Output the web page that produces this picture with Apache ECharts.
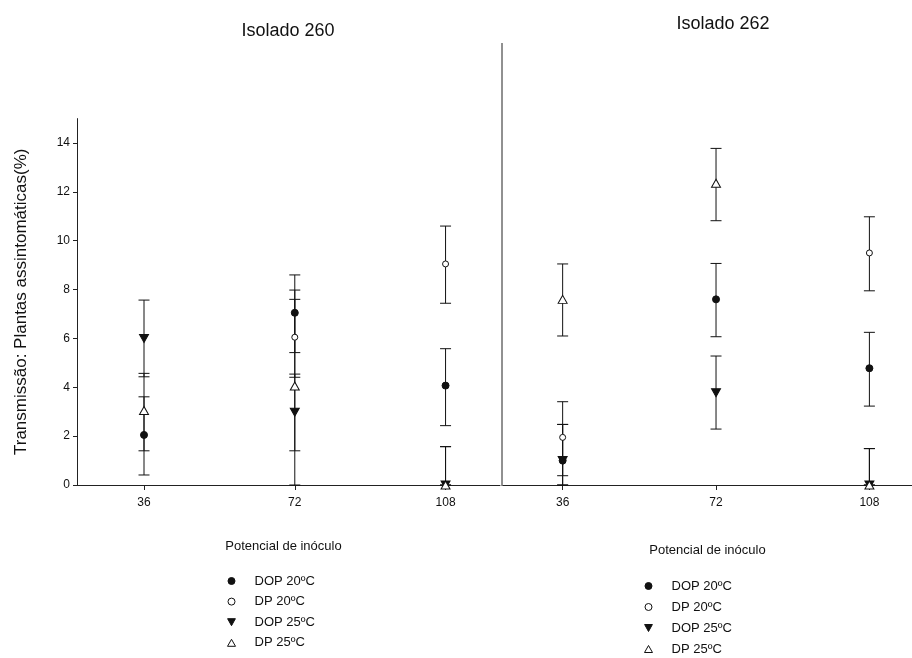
<!DOCTYPE html>
<html>
<head>
<meta charset="utf-8">
<script src="https://cdn.jsdelivr.net/npm/echarts@6/dist/echarts.min.js"></script>
<style>
  html, body { margin: 0; padding: 0; background: #fff; }
  #chart { width: 912px; height: 658px; }
</style>
</head>
<body>
<div id="chart"></div>
<script>
// categorias (potencial de inóculo) e ticks
var doses = [36, 72, 108];
var yTicks = [0, 2, 4, 6, 8, 10, 12, 14];
var seriesNames = ['DOP 20ºC', 'DP 20ºC', 'DOP 25ºC', 'DP 25ºC'];

// Isolado 260 - médias, limite inferior e superior das barras de erro
var i260_dop20 = [2.05, 7.05, 4.07];
var i260_dop20_lo = [0.41, 5.42, 2.43];
var i260_dop20_hi = [3.61, 8.6, 5.58];
var i260_dp20 = [null, 6.05, 9.05];
var i260_dp20_lo = [null, 4.41, 7.44];
var i260_dp20_hi = [null, 7.6, 10.6];
var i260_dop25 = [6.0, 2.98, 0];
var i260_dop25_lo = [4.43, 1.4, 0];
var i260_dop25_hi = [7.57, 4.54, 1.57];
var i260_dp25 = [3.05, 4.05, 0];
var i260_dp25_lo = [1.4, 0, 0];
var i260_dp25_hi = [4.57, 7.98, 1.57];

// Isolado 262
var i262_dop20 = [1.0, 7.6, 4.78];
var i262_dop20_lo = [0, 6.07, 3.23];
var i262_dop20_hi = [2.48, 9.07, 6.25];
var i262_dp20 = [1.95, null, 9.5];
var i262_dp20_lo = [0.38, null, 7.95];
var i262_dp20_hi = [3.41, null, 10.98];
var i262_dop25 = [1.0, 3.78, 0];
var i262_dop25_lo = [0, 2.29, 0];
var i262_dop25_hi = [2.48, 5.28, 1.49];
var i262_dp25 = [7.6, 12.35, 0];
var i262_dp25_lo = [6.1, 10.82, 0];
var i262_dp25_hi = [9.05, 13.78, 1.49];

var font = 'Liberation Sans, Arial, sans-serif';
var ink = '#111';
var symbols = ['circle', 'circle', 'path://M0,0L10,0L5,9Z', 'triangle'];
var symbolSizes = [7, 6, [9, 8], [9, 8]];
var fills = [ink, '#fff', ink, '#fff'];

function pairs(values) {
  return doses.map(function (d, i) { return [d, values[i]]; });
}
function errData(lo, hi) {
  var out = [];
  doses.forEach(function (d, i) {
    if (lo[i] != null) out.push([d, lo[i], hi[i]]);
  });
  return out;
}
function renderErr(params, api) {
  var x = api.value(0);
  var p1 = api.coord([x, api.value(1)]);
  var p2 = api.coord([x, api.value(2)]);
  var w = 5.5;
  var st = { stroke: ink, lineWidth: 1 };
  return {
    type: 'group',
    children: [
      { type: 'line', shape: { x1: p1[0], y1: p1[1], x2: p2[0], y2: p2[1] }, style: st },
      { type: 'line', shape: { x1: p1[0] - w, y1: p1[1], x2: p1[0] + w, y2: p1[1] }, style: st },
      { type: 'line', shape: { x1: p2[0] - w, y1: p2[1], x2: p2[0] + w, y2: p2[1] }, style: st }
    ]
  };
}

var panels = [
  { means: [i260_dop20, i260_dp20, i260_dop25, i260_dp25],
    lo: [i260_dop20_lo, i260_dp20_lo, i260_dop25_lo, i260_dp25_lo],
    hi: [i260_dop20_hi, i260_dp20_hi, i260_dop25_hi, i260_dp25_hi] },
  { means: [i262_dop20, i262_dp20, i262_dop25, i262_dp25],
    lo: [i262_dop20_lo, i262_dp20_lo, i262_dop25_lo, i262_dp25_lo],
    hi: [i262_dop20_hi, i262_dp20_hi, i262_dop25_hi, i262_dp25_hi] }
];

var series = [];
panels.forEach(function (p, g) {
  for (var k = 0; k < 4; k++) {
    series.push({
      type: 'custom',
      xAxisIndex: g, yAxisIndex: g,
      renderItem: renderErr,
      data: errData(p.lo[k], p.hi[k]),
      z: 1,
      silent: true
    });
  }
  for (var k = 0; k < 4; k++) {
    series.push({
      name: seriesNames[k],
      type: 'scatter',
      xAxisIndex: g, yAxisIndex: g,
      symbol: symbols[k],
      symbolSize: symbolSizes[k],
      itemStyle: { color: fills[k], borderColor: ink, borderWidth: 1, opacity: 1 },
      data: pairs(p.means[k]),
      z: 3 + k
    });
  }
});

var legendData = seriesNames.map(function (n, k) {
  return { name: n, icon: symbols[k],
    itemStyle: { color: fills[k], borderColor: ink, borderWidth: 1 } };
});
var legendBase = {
  orient: 'vertical',
  data: legendData,
  padding: 0,
  itemWidth: 8,
  itemHeight: 7,
  selectedMode: false,
  textStyle: { fontFamily: font, fontSize: 13, color: ink, padding: [0, 0, 0, 14], lineHeight: 14 }
};

var xAxisBase = {
  type: 'value',
  nameLocation: 'middle',
  nameTextStyle: { fontFamily: font, fontSize: 13, color: ink },
  axisLine: { show: true, onZero: false, lineStyle: { color: '#222', width: 1 } },
  axisTick: { show: true, customValues: doses, length: 5, lineStyle: { color: '#222' } },
  axisLabel: { customValues: doses, fontFamily: font, fontSize: 12, color: ink, margin: 12 },
  splitLine: { show: false }
};

var chart = echarts.init(document.getElementById('chart'), null, { renderer: 'canvas' });
chart.setOption({
  backgroundColor: '#fff',
  animation: false,
  title: [
    { text: 'Isolado 260', left: 283, top: 17, textAlign: 'center',
      textStyle: { fontFamily: font, fontSize: 18, fontWeight: 'normal', color: ink } },
    { text: 'Isolado 262', left: 718, top: 10, textAlign: 'center',
      textStyle: { fontFamily: font, fontSize: 18, fontWeight: 'normal', color: ink } }
  ],
  grid: [
    { left: 77, top: 118.6, width: 423, bottom: 173 },
    { left: 503, top: 118.6, width: 410, bottom: 173 }
  ],
  xAxis: [
    Object.assign({}, xAxisBase, { gridIndex: 0, min: 20, max: 121, name: 'Potencial de inóculo', nameGap: 55,
      nameTextStyle: { fontFamily: font, fontSize: 13, color: ink, padding: [0, 10, 0, 0] } }),
    Object.assign({}, xAxisBase, { gridIndex: 1, min: 22, max: 118, name: 'Potencial de inóculo', nameGap: 59 })
  ],
  yAxis: [
    { type: 'value', gridIndex: 0, min: 0, max: 15,
      name: 'Transmissão: Plantas assintomáticas(%)', nameLocation: 'middle', nameGap: 47,
      nameTextStyle: { fontFamily: font, fontSize: 17, color: ink },
      axisLine: { show: true, lineStyle: { color: '#222' } },
      axisTick: { show: true, customValues: yTicks, length: 4, lineStyle: { color: '#222' } },
      axisLabel: { customValues: yTicks, fontFamily: font, fontSize: 12, color: ink, margin: 7 },
      splitLine: { show: false } },
    { type: 'value', gridIndex: 1, min: 0, max: 15,
      axisLine: { show: false }, axisTick: { show: false }, axisLabel: { show: false },
      splitLine: { show: false } }
  ],
  legend: [
    Object.assign({}, legendBase, { left: 227, top: 574, itemGap: 6.6 }),
    Object.assign({}, legendBase, { left: 644, top: 579, itemGap: 7 })
  ],
  graphic: [
    { type: 'line', shape: { x1: 502, y1: 43, x2: 502, y2: 486 }, style: { stroke: '#222', lineWidth: 1 } }
  ],
  series: series
});
</script>
</body>
</html>
